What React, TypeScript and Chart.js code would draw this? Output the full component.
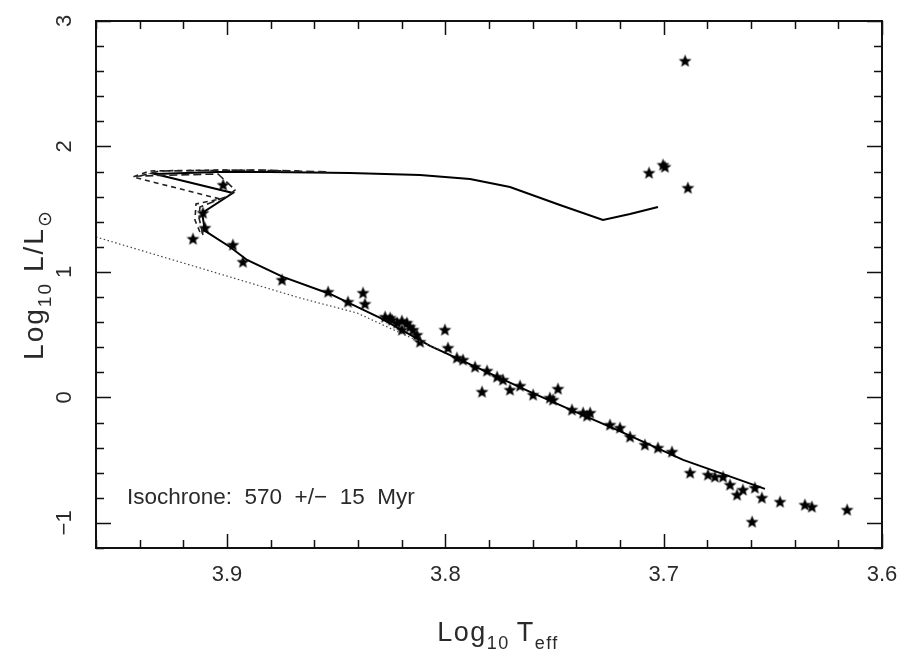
import React, { useEffect, useRef } from "react";
import { Chart, registerables } from "chart.js";

Chart.register(...registerables);

// ---- Observed stars (log Teff, log L/Lsun) ----
const starLogT = [
  3.6902, 3.7003, 3.6994, 3.7067, 3.6889,
  3.9156, 3.9018, 3.911, 3.9101,
  3.8973, 3.8927, 3.8748, 3.8537, 3.8446, 3.8377, 3.8368,
  3.8276, 3.8253, 3.8244, 3.8221, 3.8199, 3.8176, 3.8199, 3.8162, 3.8148, 3.813, 3.8116,
  3.8002, 3.7988, 3.7947, 3.7919, 3.7864, 3.7809, 3.7763, 3.7736, 3.7832, 3.7704, 3.7658,
  3.7598, 3.7521, 3.7484, 3.7507, 3.742, 3.7369, 3.7337, 3.7351, 3.7246, 3.72, 3.7154,
  3.7086, 3.7026, 3.6962, 3.6879, 3.6797, 3.6765, 3.6728, 3.6696, 3.6664, 3.6637, 3.6582,
  3.655, 3.6467, 3.6353, 3.6321, 3.616, 3.6595,
];
const starLogL = [
  2.6813, 1.8526, 1.8367, 1.7888, 1.6693,
  1.263, 1.6932, 1.4701, 1.3506,
  1.2151, 1.0797, 0.9363, 0.8406, 0.761, 0.8327, 0.745,
  0.6414, 0.6335, 0.6175, 0.5936, 0.6096, 0.5936, 0.5379, 0.5618, 0.5379, 0.498, 0.4422,
  0.5379, 0.3944, 0.3148, 0.2988, 0.243, 0.2112, 0.1634, 0.1395, 0.0438, 0.0598, 0.0916,
  0.0199, -0.004, 0.0677, -0.0199, -0.0996, -0.1235, -0.1235, -0.1474, -0.2191, -0.243, -0.3147,
  -0.3785, -0.4024, -0.4342, -0.6016, -0.6175, -0.6335, -0.6335, -0.6972, -0.7769, -0.737, -0.7211,
  -0.8009, -0.8327, -0.8566, -0.8725, -0.8964, -0.992,
];

// ---- Isochrone (solid) ----
const solidLogT = [
  3.6536, 3.6911, 3.7214, 3.7383, 3.7612, 3.7841, 3.807, 3.8299, 3.8528, 3.8744, 3.8908, 3.8986,
  3.9101, 3.9114, 3.8973, 3.933, 3.9046, 3.8803, 3.8437, 3.8116, 3.7887, 3.7704, 3.7475, 3.7278,
  3.7154, 3.7026,
];
const solidLogL = [
  -0.729, -0.498, -0.259, -0.1315, 0.0438, 0.2271, 0.4104, 0.6335, 0.8247, 0.9602, 1.0956, 1.1992,
  1.3267, 1.4701, 1.6295, 1.7809, 1.7968, 1.7968, 1.7888, 1.7729, 1.741, 1.6773, 1.5339, 1.4143,
  1.4622, 1.5179,
];

// ---- Bounding isochrones (dashed) ----
const dashALogT = [3.9124, 3.9147, 3.9142, 3.9032, 3.9431, 3.9353, 3.9032, 3.8666];
const dashALogL = [1.3187, 1.4144, 1.5418, 1.5817, 1.757, 1.8048, 1.8127, 1.8048];
const dashBLogT = [3.911, 3.9128, 3.9124, 3.8995, 3.8963, 3.9041, 3.9398, 3.9307, 3.8849, 3.8528];
const dashBLogL = [1.2948, 1.4303, 1.5179, 1.6056, 1.6534, 1.7809, 1.765, 1.8048, 1.8127, 1.7968];

// ---- ZAMS (dotted) ----
const zamsLogT = [3.96, 3.9124, 3.8666, 3.8405, 3.8176, 3.8024];
const zamsLogL = [1.2789, 1.0319, 0.7928, 0.6733, 0.49, 0.3785];

// ---- Axes ----
const xTickValues = [3.9, 3.8, 3.7, 3.6];
const yTickValues = [-1, 0, 1, 2, 3];
const xMin = 3.6, xMax = 3.96, xMinorStep = 0.02;
const yMin = -1.2, yMax = 3, yMinorStep = 0.2;
const annotation = "Isochrone:  570  +/\u2212  15  Myr";

const FONT = "'Liberation Sans', Arial, Helvetica, sans-serif";
const TEXT = "#2a2a2a";

const toXY = (xs: number[], ys: number[]) => xs.map((x, i) => ({ x, y: ys[i] }));

function makeStar(): HTMLCanvasElement {
  const c = document.createElement("canvas");
  c.width = 15; c.height = 15;
  const g = c.getContext("2d")!;
  const cx = 7.5, cy = 7.8, R = 6.8, r = 2.9;
  g.beginPath();
  for (let i = 0; i < 10; i++) {
    const rad = i % 2 === 0 ? R : r;
    const a = -Math.PI / 2 + (i * Math.PI) / 5;
    const px = cx + rad * Math.cos(a), py = cy + rad * Math.sin(a);
    if (i === 0) g.moveTo(px, py); else g.lineTo(px, py);
  }
  g.closePath();
  g.fillStyle = "#000";
  g.fill();
  return c;
}

type Part = { t: string; sub?: boolean; gap?: number };
function drawRich(ctx: CanvasRenderingContext2D, parts: Part[], cx: number, cy: number, size: number, spacing: number) {
  const big = `${size}px ${FONT}`;
  const small = `${Math.round(size * 0.68)}px ${FONT}`;
  const anyCtx = ctx as any;
  anyCtx.letterSpacing = `${spacing}px`;
  let total = 0;
  const widths = parts.map((p) => {
    ctx.font = p.sub ? small : big;
    const w = ctx.measureText(p.t).width + (p.gap || 0);
    total += w;
    return w;
  });
  let x = cx - total / 2;
  ctx.textBaseline = "alphabetic";
  ctx.textAlign = "left";
  parts.forEach((p, i) => {
    ctx.font = p.sub ? small : big;
    ctx.fillText(p.t, x, cy + (p.sub ? size * 0.3 : 0));
    x += widths[i];
  });
  anyCtx.letterSpacing = "0px";
}

const framePlugin = {
  id: "frame",
  afterDatasetsDraw(chart: any) {
    const { ctx, chartArea: a, scales } = chart;
    const xs = scales.x, ys = scales.y;
    ctx.save();
    ctx.strokeStyle = "#111";
    ctx.lineWidth = 2;
    ctx.strokeRect(a.left, a.top, a.right - a.left, a.bottom - a.top);
    ctx.lineWidth = 1.5;
    ctx.beginPath();
    const nx = Math.round((xMax - xMin) / xMinorStep);
    for (let i = 0; i <= nx; i++) {
      const v = xMin + i * xMinorStep;
      const major = i % 5 === 0;
      const len = major ? 14 : 8;
      const px = Math.round(xs.getPixelForValue(v)) + 0.5;
      ctx.moveTo(px, a.bottom); ctx.lineTo(px, a.bottom - len);
      ctx.moveTo(px, a.top); ctx.lineTo(px, a.top + len);
    }
    const ny = Math.round((yMax - yMin) / yMinorStep);
    for (let i = 0; i <= ny; i++) {
      const v = yMin + i * yMinorStep;
      const major = Math.abs(v - Math.round(v)) < 1e-6;
      const len = major ? 15 : 8;
      const py = Math.round(ys.getPixelForValue(v)) + 0.5;
      ctx.moveTo(a.left, py); ctx.lineTo(a.left + len, py);
      ctx.moveTo(a.right, py); ctx.lineTo(a.right - len, py);
    }
    ctx.stroke();
    ctx.restore();
  },
  afterDraw(chart: any) {
    const { ctx, chartArea: a } = chart;
    ctx.save();
    ctx.fillStyle = TEXT;
    // annotation
    ctx.font = `22.5px ${FONT}`;
    ctx.textAlign = "left";
    ctx.textBaseline = "alphabetic";
    ctx.fillText(annotation, a.left + 31, a.bottom - 44);
    // x title
    drawRich(ctx, [{ t: "Log" }, { t: "10", sub: true, gap: 7 }, { t: "T" }, { t: "eff", sub: true }], (a.left + a.right) / 2 + 9, 641, 27, 1.5);
    // y title
    ctx.save();
    ctx.translate(43, (a.top + a.bottom) / 2);
    ctx.rotate(-Math.PI / 2);
    drawRich(ctx, [{ t: "Log" }, { t: "10", sub: true, gap: 10 }, { t: "L/L" }, { t: "\u2299", sub: true }], 0, 0, 28, 2);
    ctx.restore();
    ctx.restore();
  },
};

export default function App() {
  const ref = useRef<HTMLCanvasElement | null>(null);
  useEffect(() => {
    if (!ref.current) return;
    const star = makeStar();
    const chart = new Chart(ref.current, {
      type: "scatter",
      data: {
        datasets: [
          {
            label: "ZAMS",
            data: toXY(zamsLogT, zamsLogL),
            showLine: true,
            borderColor: "#444",
            borderWidth: 1.2,
            borderDash: [1.5, 2.5],
            pointRadius: 0,
          },
          {
            label: "Isochrone (younger)",
            data: toXY(dashALogT, dashALogL),
            showLine: true,
            borderColor: "#222",
            borderWidth: 1.6,
            borderDash: [5, 4],
            pointRadius: 0,
          },
          {
            label: "Isochrone (older)",
            data: toXY(dashBLogT, dashBLogL),
            showLine: true,
            borderColor: "#222",
            borderWidth: 1.6,
            borderDash: [8, 4],
            pointRadius: 0,
          },
          {
            label: "Isochrone 570 Myr",
            data: toXY(solidLogT, solidLogL),
            showLine: true,
            borderColor: "#000",
            borderWidth: 2,
            pointRadius: 0,
          },
          {
            label: "Stars",
            data: toXY(starLogT, starLogL),
            showLine: false,
            pointStyle: star as any,
            pointRadius: 7,
            backgroundColor: "#000",
            borderColor: "#000",
          },
        ],
      },
      options: {
        animation: false,
        responsive: false,
        layout: { padding: { left: 0, right: 27, top: 21, bottom: 0 } },
        plugins: { legend: { display: false }, tooltip: { enabled: false } },
        scales: {
          x: {
            type: "linear",
            reverse: true,
            min: xMin,
            max: xMax,
            afterBuildTicks: (s: any) => { s.ticks = xTickValues.map((v) => ({ value: v })); },
            afterFit: (s: any) => { s.height = 109; s.paddingLeft = 0; s.paddingRight = 0; },
            grid: { display: false, drawTicks: false },
            border: { display: false },
            ticks: {
              padding: 14,
              color: TEXT,
              font: { family: FONT, size: 22 },
              callback: (v: any) => Number(v).toFixed(1),
            },
          },
          y: {
            type: "linear",
            min: yMin,
            max: yMax,
            afterBuildTicks: (s: any) => { s.ticks = yTickValues.map((v) => ({ value: v })); },
            afterFit: (s: any) => { s.width = 96; s.paddingTop = 0; s.paddingBottom = 0; },
            grid: { display: false, drawTicks: false },
            border: { display: false },
            ticks: {
              minRotation: 90,
              maxRotation: 90,
              crossAlign: "center",
              padding: 19,
              color: TEXT,
              font: { family: FONT, size: 22 },
              callback: (v: any) => (Number(v) < 0 ? "\u2212" + Math.abs(Number(v)) : String(v)),
            },
          },
        },
      },
      plugins: [framePlugin],
    } as any);
    return () => chart.destroy();
  }, []);
  return (
    <div style={{ position: "absolute", left: 0, top: 0, width: 909, height: 657, background: "#fff" }}>
      <canvas ref={ref} width={909} height={657} style={{ display: "block" }} />
    </div>
  );
}
